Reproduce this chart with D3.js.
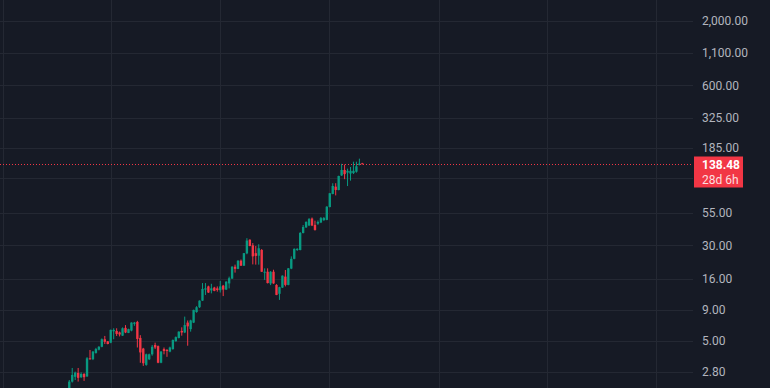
<!DOCTYPE html>
<html>
<head>
<meta charset="utf-8">
<script src="https://cdn.jsdelivr.net/npm/d3@7"></script>
<style>
  html, body { margin:0; padding:0; background:#161a25; }
  svg { display:block; }
</style>
</head>
<body>
<svg id="chart"></svg>
<script>
/*************** data ****************************************/
var opens  = [1.92,2.34,2.56,2.75,2.54,2.70,2.58,3.62,3.56,4.00,4.25,4.49,5.17,4.97,4.85,6.00,6.04,5.87,5.53,6.40,
              5.82,6.08,6.90,7.15,5.30,4.34,3.20,3.55,3.90,4.64,4.55,3.33,4.30,4.23,4.10,4.30,4.98,5.30,6.04,5.87,
              7.06,6.25,7.06,8.60,9.41,10.65,13.1,13.9,12.9,13.6,13.4,12.95,14.1,13.1,14.7,16.1,20.1,19.3,22.5,20.5,
              25.8,33.3,30.0,25.9,24.7,27.5,18.0,18.3,14.7,18.3,14.3,12.1,13.6,16.7,14.3,19.4,23.3,27.5,27.5,37.8,
              42.0,43.5,49.5,44.0,45.0,46.0,48.0,48.3,61.5,78.5,90.0,84.5,111,123,117,115,116,119,135,139.5];
var highs  = [2.41,3.02,2.82,3.02,2.78,2.74,3.70,4.23,4.15,4.40,4.55,5.25,5.50,5.00,6.20,6.35,6.35,5.97,6.45,6.74,
              6.30,7.10,7.15,7.30,5.58,4.40,3.95,3.95,4.64,4.85,4.60,4.15,4.43,4.30,4.50,5.15,5.45,6.00,6.46,7.90,
              7.35,7.45,9.00,9.60,10.7,14.8,14.8,14.1,14.6,13.8,13.9,15.4,14.3,15.3,16.7,20.3,20.9,22.7,23.0,26.0,
              34.3,33.6,31.3,29.6,30.6,28.0,19.5,19.5,18.5,19.0,14.5,13.8,17.1,18.9,19.6,24.4,28.3,28.4,38.5,43.9,
              47.0,50.0,50.5,47.6,47.8,51.0,51.0,62.5,80.0,95.9,96.0,110.5,138,136,126,130,143.6,143.6,152,140.5];
var lows   = [1.85,2.30,2.41,2.34,2.50,2.37,2.55,3.53,3.50,3.95,4.20,4.45,4.73,4.70,4.80,5.17,5.50,5.45,5.50,5.80,
              5.80,6.00,6.65,4.43,3.33,3.14,3.15,3.50,3.80,4.30,3.30,3.30,3.90,3.72,4.05,4.25,4.95,5.25,5.53,5.80,
              4.58,5.96,7.00,8.50,9.30,10.6,11.85,12.3,12.2,12.7,12.6,12.4,11.6,13.0,13.4,16.0,18.0,19.2,20.4,20.4,
              25.4,29.5,21.0,20.9,20.9,18.2,15.7,14.7,14.25,14.6,11.8,10.8,13.5,13.9,14.2,19.2,23.1,27.0,27.3,37.5,
              41.5,43.0,43.0,39.5,44.0,45.5,47.5,48.0,61.0,78.0,76.4,84.0,110,103.5,91,100.7,114,117,134,136.5];
var closes = [2.34,2.65,2.77,2.51,2.70,2.54,3.62,3.55,4.10,4.30,4.49,5.17,4.93,4.73,6.16,6.16,5.71,5.65,6.35,5.87,
              6.25,7.06,7.06,5.20,4.04,3.30,3.90,3.90,4.49,4.43,3.33,4.10,4.15,4.15,4.43,5.10,5.38,5.96,5.87,6.74,
              6.58,7.35,8.95,9.41,10.65,13.26,13.4,12.4,13.4,12.8,13.0,13.9,13.1,15.2,16.2,20.1,19.3,22.5,20.5,25.9,
              32.8,29.6,24.4,24.6,28.4,18.3,18.3,14.8,18.3,14.7,11.85,13.7,17.0,14.3,19.5,23.3,28.1,28.1,37.8,42.3,
              46.5,49.0,43.5,40.0,46.5,49.9,50.0,61.8,79.5,91.1,84.6,109.9,122.9,113.8,121,121,121,131.7,138.5,138.48];

var priceTicks = [2000, 1100, 600, 325, 185, 105, 55, 30, 16, 9, 5, 2.8]; //log scale grid
var timeGrid   = [-22.5, 14.1, 50.9, 87.7, 124.8, 161.4, 198.2];        //bar index of the time grid lines
var lastPrice  = 138.48;
var countdown  = "28d 6h";

/*************** settings *****************/
var width = 770,
    height = 388,
    plotW = 693,          //price pane width, axis on the right
    upColor = "#089981",
    downColor = "#f23645",
    gridColor = "#242833",
    textColor = "#b2b5be",
    fontFamily = "Roboto, 'Noto Sans', sans-serif";

var svg = d3.select("#chart")
    .attr("width", width)
    .attr("height", height)
    .style("font-family", fontFamily);

svg.append("rect")
    .attr("width", width).attr("height", height)
    .attr("fill", "#161a25");

/*************** scales *****************/
var x = d3.scaleLinear()
    .domain([-23.4, 210.7])   //visible bar range, incl. empty future space
    .range([0, plotW]);

var y = d3.scaleLog()
    .domain([2000, 2.8])
    .range([21, 372]);

var step = x(1) - x(0),
    bodyW = step * 0.8;

/*************** grid *****************/
var grid = svg.append("g").attr("class", "grid");

grid.selectAll("line.h")
    .data(priceTicks)
  .enter().append("line")
    .attr("class", "h")
    .attr("x1", 0).attr("x2", plotW)
    .attr("y1", function(d){ return Math.round(y(d)) + 0.5; })
    .attr("y2", function(d){ return Math.round(y(d)) + 0.5; })
    .attr("stroke", gridColor);

grid.selectAll("line.v")
    .data(timeGrid)
  .enter().append("line")
    .attr("class", "v")
    .attr("x1", function(d){ return Math.round(x(d)) + 0.5; })
    .attr("x2", function(d){ return Math.round(x(d)) + 0.5; })
    .attr("y1", 0).attr("y2", height)
    .attr("stroke", gridColor);

/*************** candles *****************/
var bars = closes.map(function(c, i){
    return {i:i, o:opens[i], h:highs[i], l:lows[i], c:c};
});

var plot = svg.append("g")
    .attr("clip-path", "url(#clip)");

svg.append("clipPath").attr("id", "clip")
  .append("rect").attr("width", plotW).attr("height", height);

var candle = plot.selectAll("g.candle")
    .data(bars)
  .enter().append("g")
    .attr("class", "candle")
    .attr("fill", function(d){ return d.c >= d.o ? upColor : downColor; });

candle.append("rect") //wick
    .attr("x", function(d){ return x(d.i) - 0.5; })
    .attr("width", 1)
    .attr("y", function(d){ return y(d.h); })
    .attr("height", function(d){ return Math.max(1, y(d.l) - y(d.h)); });

candle.append("rect") //body
    .attr("x", function(d){ return x(d.i) - bodyW / 2; })
    .attr("width", bodyW)
    .attr("y", function(d){ return y(Math.max(d.o, d.c)); })
    .attr("height", function(d){ return Math.max(1, Math.abs(y(d.o) - y(d.c))); });

/*************** last price line *****************/
var yLast = Math.round(y(lastPrice)) + 0.5;

svg.append("line")
    .attr("x1", 0).attr("x2", plotW)
    .attr("y1", yLast).attr("y2", yLast)
    .attr("stroke", downColor)
    .attr("stroke-dasharray", "1,2");

/*************** price axis *****************/
var boxTop = yLast - 8, boxBottom = yLast + 23;

var axis = svg.append("g").attr("class", "axis");

axis.selectAll("text")
    .data(priceTicks.filter(function(d){ //labels under the price box are hidden
        var yy = y(d);
        return yy < boxTop - 6 || yy > boxBottom + 6;
    }))
  .enter().append("text")
    .attr("x", 702)
    .attr("y", function(d){ return y(d); })
    .attr("dy", "0.35em")
    .attr("fill", textColor)
    .attr("font-size", 12)
    .text(function(d){ return d3.format(",.2f")(d); });

axis.append("rect")
    .attr("x", 694).attr("y", boxTop)
    .attr("width", 49).attr("height", boxBottom - boxTop)
    .attr("fill", downColor);

axis.append("text")
    .attr("x", 702).attr("y", yLast)
    .attr("dy", "0.35em")
    .attr("fill", "#ffffff")
    .attr("font-size", 12)
    .attr("font-weight", "bold")
    .text(d3.format(".2f")(lastPrice));

axis.append("text")
    .attr("x", 702).attr("y", yLast + 15)
    .attr("dy", "0.35em")
    .attr("fill", "rgba(255,255,255,0.85)")
    .attr("font-size", 12)
    .text(countdown);
</script>
</body>
</html>
